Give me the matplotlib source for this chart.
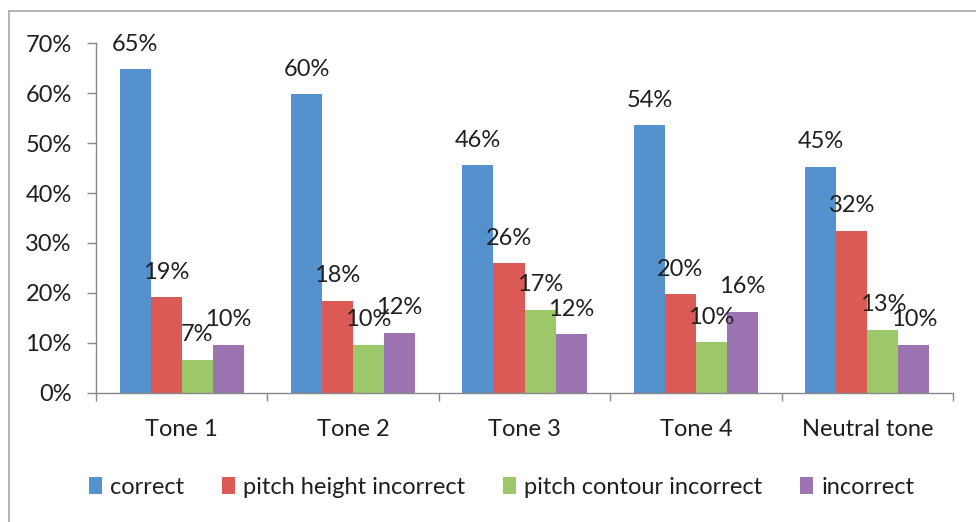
import matplotlib
matplotlib.use("Agg")
import matplotlib.pyplot as plt
from matplotlib.patches import Patch
from matplotlib.lines import Line2D
import numpy as np

categories = ["Tone 1", "Tone 2", "Tone 3", "Tone 4", "Neutral tone"]
series_names = ["correct", "pitch height incorrect", "pitch contour incorrect", "incorrect"]
correct = [64.8, 59.8, 45.6, 53.6, 45.3]
pitch_height = [19.1, 18.4, 25.9, 19.7, 32.4]
pitch_contour = [6.6, 9.6, 16.6, 10.1, 12.6]
incorrect = [9.6, 12.0, 11.7, 16.2, 9.6]
yticks = [0, 10, 20, 30, 40, 50, 60, 70]
colors = ["#5591CC", "#DC5A55", "#9DC86A", "#9B74B1"]

plt.rcParams['font.family'] = ['Lato', 'DejaVu Sans']
FS = 17
TXT = "#1f1f1f"

fig = plt.figure(figsize=(9.76, 5.22), dpi=100)
ax = fig.add_axes([96/976, 1-392.7/522, (953-96)/976, (392.7-43.3)/522])

data = [correct, pitch_height, pitch_contour, incorrect]
x = np.arange(len(categories))
w = 0.181
for k, (vals, c) in enumerate(zip(data, colors)):
    pos = x + (k - 1.5) * w
    bars = ax.bar(pos, vals, width=w, color=c, edgecolor='none', zorder=2)
    for b, v in zip(bars, vals):
        ax.annotate(f"{v:.0f}%", (b.get_x() + b.get_width()/2, v),
                    xytext=(0, 18), textcoords='offset points',
                    ha='center', va='center', fontsize=FS, color=TXT, zorder=3)

ax.set_xlim(-0.5, len(categories) - 0.5)
ax.set_ylim(0, 70)
ax.set_yticks(yticks)
ax.set_yticklabels([f"{t}%" for t in yticks])
ax.set_xticks(x)
ax.set_xticklabels(categories)
ax.set_xticks(np.arange(-0.5, len(categories)), minor=True)
ax.tick_params(axis='x', which='major', length=0, pad=19, labelsize=FS, labelcolor=TXT)
ax.tick_params(axis='x', which='minor', length=6, width=1, color='#888888', direction='out')
ax.tick_params(axis='y', which='major', length=6.5, width=1, color='#888888', pad=11,
               labelsize=FS, labelcolor=TXT)
for s in ['top', 'right']:
    ax.spines[s].set_visible(False)
for s in ['left', 'bottom']:
    ax.spines[s].set_color('#888888')
    ax.spines[s].set_linewidth(1)

handles = [Patch(facecolor=c, edgecolor='none', label=n) for c, n in zip(colors, series_names)]
fig.legend(handles=handles, loc='center', bbox_to_anchor=(0.514, 1-487/522), ncol=4,
           frameon=False, fontsize=FS, handlelength=0.55, handleheight=0.7,
           handletextpad=0.35, columnspacing=1.6, labelcolor=TXT)

# outer chart frame (left and top edges visible)
ytop = 1 - 10.5/522
xl = 8.5/976
fig.add_artist(Line2D([xl, 1], [ytop, ytop], transform=fig.transFigure, color='#A6A6A6', lw=1.2))
fig.add_artist(Line2D([xl, xl], [0, ytop], transform=fig.transFigure, color='#A6A6A6', lw=1.2))

fig.savefig("out.png", dpi=100, facecolor='white')
